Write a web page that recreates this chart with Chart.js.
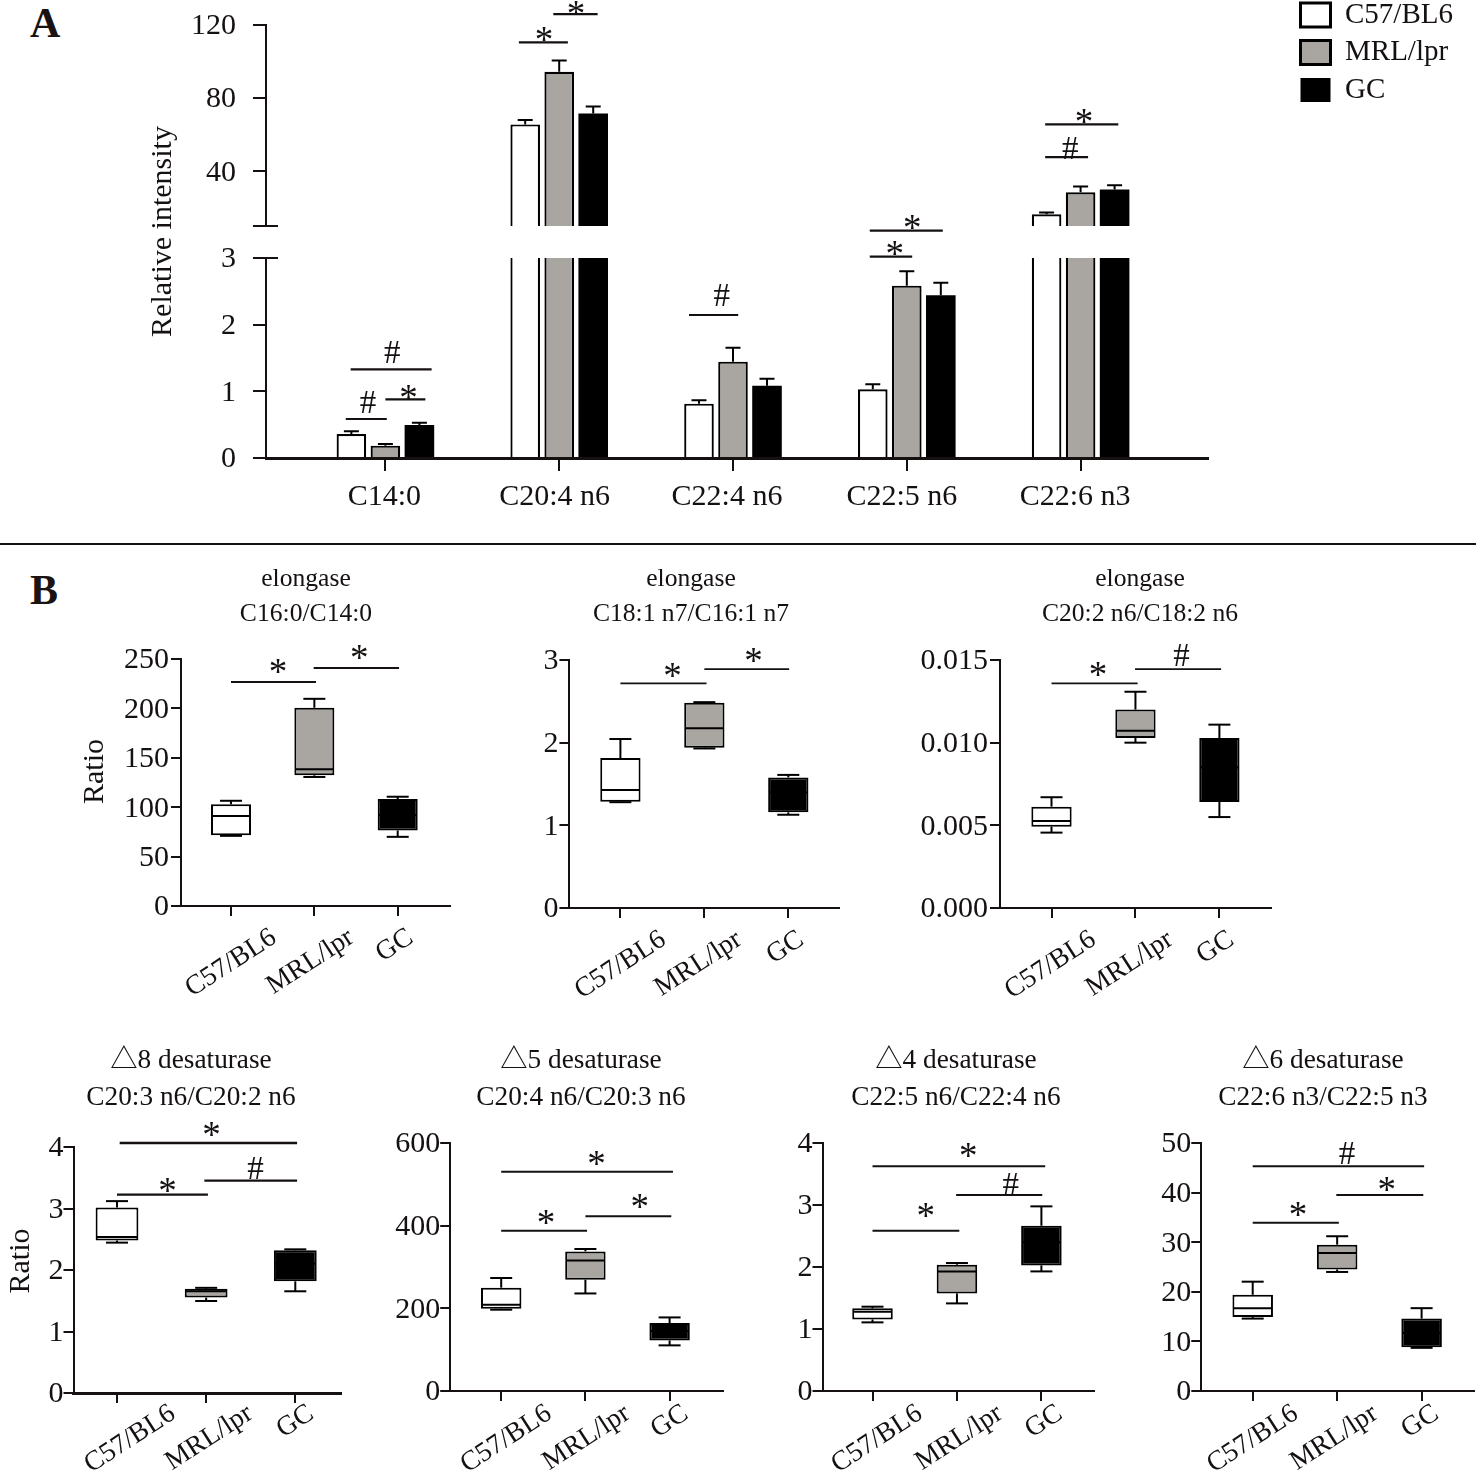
<!DOCTYPE html>
<html>
<head>
<meta charset="utf-8">
<script src="https://cdn.jsdelivr.net/npm/chart.js@4/dist/chart.umd.min.js"></script>
<style>
html,body{margin:0;padding:0;background:#fff;}
body{position:relative;width:1476px;height:1474px;overflow:hidden;font-family:'Liberation Serif',serif;color:#1a1311;}
canvas{position:absolute;display:block;}
.letter{position:absolute;font:bold 42px 'Liberation Serif',serif;line-height:42px;}
.rule{position:absolute;left:0;top:543px;width:1476px;height:2px;background:#111;}
</style>
</head>
<body>
<div class="letter" style="left:30px;top:2px">A</div>
<div class="letter" style="left:30px;top:569px">B</div>
<div class="rule"></div>
<script>
// ---------- data ----------
const groupNames = ['C57/BL6', 'MRL/lpr', 'GC'];
const fattyAcids = ['C14:0', 'C20:4 n6', 'C22:4 n6', 'C22:5 n6', 'C22:6 n3'];

const c57Mean  = [0.36, 65.6, 0.815, 1.03, 16.4];
const c57Upper = [0.40, 68.0, 0.865, 1.105, 17.4];
const mrlMean  = [0.185, 94.4, 1.445, 2.585, 28.5];
const mrlUpper = [0.21, 100.6, 1.655, 2.80, 31.6];
const gcMean   = [0.495, 71.6, 1.085, 2.44, 30.0];
const gcUpper  = [0.53, 75.4, 1.19, 2.63, 32.3];

const lowerTicks = [0, 1, 2, 3];
const upperTicks = [10, 40, 80, 120];
const lowerBrackets = [[-0.2,0.266,1.33],[-0.228,0.008,0.585],[0,0.23,0.88],[1.747,2.03,2.145],[2.787,3.207,3.41],[2.787,3.031,3.02]];
const lowerSymbols  = [['#',0.04,1.595],['#',-0.1,0.835],['*',0.133,0.98],['#',1.935,2.445],['*',3.031,3.525],['*',2.93,3.135]];
const upperBrackets = [[0.768,1.05,110.5],[0.966,1.221,125.9],[3.796,4.217,65.6],[3.796,4.043,47.7]];
const upperSymbols  = [['*',0.912,114.7],['*',1.097,129.1],['*',4.019,69.8],['#',3.94,52.8]];

// each box: [low whisker, Q1, median, Q3, high whisker]
const c16c14Box = [[71,71.7,91,102.9,106.5],[130.6,132.3,138.4,200.6,209.7],[70,76.5,92,108.2,110.6]];
const c18c16Box = [[1.28,1.286,1.427,1.814,2.044],[1.93,1.94,2.174,2.483,2.49],[1.128,1.157,1.4,1.58,1.61]];
const c20c18Box = [[0.00456,0.00492,0.00526,0.00613,0.0067],[0.0100,0.01028,0.01072,0.0120,0.01308],[0.0055,0.00641,0.0085,0.01028,0.01109]];
const d8Box = [[2.445,2.478,2.537,3.015,3.12],[1.496,1.551,1.654,1.697,1.71],[1.654,1.816,2.1,2.32,2.336]];
const d5Box = [[196.7,199,208.8,250,273.4],[236,269.3,316,337.8,343.6],[110.4,122.4,145,164.5,178]];
const d4Box = [[1.107,1.155,1.279,1.333,1.36],[1.413,1.574,1.929,2.037,2.064],[1.929,2.026,2.4,2.666,2.978]];
const d6Box = [[14.6,14.9,16.7,19.4,22.04],[24,24.5,27.8,29.5,31.2],[8.7,8.8,11.7,14.6,16.7]];

const c16c14Ticks = [0,50,100,150,200,250];
const c18c16Ticks = [0,1,2,3];
const c20c18Ticks = [0,0.005,0.010,0.015];
const d8Ticks = [0,1,2,3,4];
const d5Ticks = [0,200,400,600];
const d4Ticks = [0,1,2,3,4];
const d6Ticks = [0,10,20,30,40,50];

const c16c14Brackets = [[0,1.02,226.7],[0.992,2.016,240.9]];
const c16c14Symbols  = [['*',0.564,241.9],['*',1.54,256.7]];
const c18c16Brackets = [[0,1.026,2.718],[1.0,2.01,2.89]];
const c18c16Symbols  = [['*',0.62,2.87],['*',1.586,3.05]];
const c20c18Brackets = [[0,1.026,0.01359],[0.995,2.02,0.01445]];
const c20c18Symbols  = [['*',0.555,0.01439],['#',1.55,0.0153]];
const d8Brackets = [[0.03,2.02,4.065],[0,1.02,3.226],[0.98,2.02,3.453]];
const d8Symbols  = [['*',1.06,4.28],['*',0.566,3.377],['#',1.553,3.654]];
const d5Brackets = [[0,2.04,530.6],[0,1.02,387.8],[1,2.02,422.5]];
const d5Symbols  = [['*',1.133,561.3],['*',0.532,418.6],['*',1.645,458.7]];
const d4Brackets = [[0,2.045,3.623],[0,1.028,2.585],[0.99,2.01,3.161]];
const d4Symbols  = [['*',1.134,3.881],['*',0.631,2.908],['#',1.638,3.344]];
const d6Brackets = [[0,2.03,45.3],[0,1.02,33.9],[0.99,2.02,39.5]];
const d6Symbols  = [['#',1.116,48.1],['*',0.537,36.55],['*',1.587,41.7]];

// ---------- styling ----------
const SERIF = "'Liberation Serif','Noto Sans CJK SC',serif";
const INK = '#141110';
const GRAY = '#a9a6a1';
const fills = ['#ffffff', GRAY, '#000000'];

function makeCanvas(left, top, w, h) {
  const c = document.createElement('canvas');
  c.width = w; c.height = h;
  c.style.left = left + 'px'; c.style.top = top + 'px';
  c.style.width = w + 'px'; c.style.height = h + 'px';
  document.body.appendChild(c);
  return c;
}

function sigPlugin(brackets, symbols, lw) {
  return {
    id: 'sig',
    afterDatasetsDraw(chart) {
      const {ctx, scales: {x, y}} = chart;
      ctx.save();
      ctx.strokeStyle = INK; ctx.lineWidth = lw; ctx.fillStyle = INK;
      brackets.forEach(([a, b, v]) => {
        const py = y.getPixelForValue(v);
        ctx.beginPath(); ctx.moveTo(x.getPixelForValue(a), py); ctx.lineTo(x.getPixelForValue(b), py); ctx.stroke();
      });
      ctx.textAlign = 'center'; ctx.textBaseline = 'alphabetic';
      symbols.forEach(([t, a, v]) => {
        const star = t === '*';
        const size = star ? 37 : 33;
        ctx.font = size + "px 'Liberation Serif',serif";
        ctx.fillText(t, x.getPixelForValue(a), y.getPixelForValue(v) + size * (star ? 0.47 : 0.338));
      });
      ctx.restore();
    }
  };
}

function boxPlugin(boxes) {
  return {
    id: 'boxMarks',
    afterDatasetsDraw(chart) {
      const {ctx, scales: {y}} = chart;
      const meta = chart.getDatasetMeta(0);
      ctx.save();
      ctx.strokeStyle = '#000'; ctx.lineWidth = 2;
      boxes.forEach((b, i) => {
        const el = meta.data[i], cx = el.x, hw = el.width / 2 - 1, cap = 11;
        const seg = (x1, y1, x2, y2) => { ctx.beginPath(); ctx.moveTo(x1, y1); ctx.lineTo(x2, y2); ctx.stroke(); };
        const [lo, q1, med, q3, hi] = b.map(v => y.getPixelForValue(v));
        seg(cx, q3, cx, hi); seg(cx - cap, hi, cx + cap, hi);
        seg(cx, q1, cx, lo); seg(cx - cap, lo, cx + cap, lo);
        seg(cx - hw, med, cx + hw, med);
      });
      ctx.restore();
    }
  };
}

// Tick-label fine placement: the labels stay the scale's own text items.
function labelPlacement(dx, drop) {
  return {
    id: 'labelPlacement',
    beforeDraw(chart) {
      const s = chart.scales.x, ctx = chart.ctx;
      if (chart.titleBlock) { chart.titleBlock.left = 0; chart.titleBlock.right = chart.width; }
      chart.scales.y.getLabelItems().forEach(it => {
        if (!it._placed) { it._placed = true; it.options.translation[1] += 1.5; }
      });
      if (!s.options.display) return;
      const rot = s.labelRotation * Math.PI / 180;
      ctx.save();
      s.getLabelItems().forEach((it, i) => {
        if (it._placed) return;
        it._placed = true;
        if (!rot) {
          it.options.translation[0] += dx[i];
          it.options.translation[1] += drop;
          return;
        }
        ctx.font = it.font.string;
        const w = ctx.measureText(it.label).width;
        it.textOffset = 0;
        it.options.textAlign = 'center';
        it.options.textBaseline = 'middle';
        it.options.translation = [s.getPixelForValue(i) + dx[i], s.top + drop + Math.sin(rot) * w / 2 + Math.cos(rot) * 11];
      });
      ctx.restore();
    }
  };
}

function linearX(plotL, plotR, t0, tLast, n, labels, opt) {
  const band = (tLast - t0) / (n - 1);
  return Object.assign({
    type: 'linear', position: 'bottom', offset: false,
    min: -(t0 - plotL) / band, max: (n - 1) + (plotR - tLast) / band,
    afterBuildTicks(s) { s.ticks = labels.map((_, i) => ({value: i})); },
    grid: {display: true, offset: false, drawOnChartArea: false, drawTicks: true, tickLength: opt.tick, lineWidth: 2, color: INK},
    border: {display: true, color: INK, width: opt.axisW},
    ticks: Object.assign({autoSkip: false, color: INK, font: {family: SERIF, size: opt.font},
      callback: v => labels[v]}, opt.ticks || {})
  }, opt.extra || {});
}

function linearY(min, max, ticks, fmt, width, opt) {
  return {
    type: 'linear', position: 'left', min, max,
    afterBuildTicks(s) { s.ticks = ticks.map(v => ({value: v})); },
    afterFit(s) {
      s.width = width; s.paddingTop = 0; s.paddingBottom = 0;
      if (opt.titleShift && !s._shifted) {
        s._shifted = true;
        const orig = s.drawTitle;
        s.drawTitle = function () {
          const c = this.ctx; c.save(); c.translate(0, opt.titleShift); orig.call(this); c.restore();
        };
      }
    },
    grid: {display: true, drawOnChartArea: false, drawTicks: true, tickLength: opt.tick, lineWidth: 2, color: INK},
    border: {display: true, color: INK, width: 2},
    ticks: {color: INK, padding: opt.pad, font: {family: SERIF, size: 30}, callback: fmt},
    title: opt.title ? {display: true, text: opt.title, color: INK, padding: 0, font: {family: SERIF, size: 30}} : {display: false}
  };
}

const common = () => ({
  responsive: false, animation: false, events: [], maintainAspectRatio: false,
  plugins: {legend: {display: false}, tooltip: {enabled: false}, title: {display: false}}
});

// ---------- panel A (broken axis: two charts sharing the same arrays) ----------
const meansA = [c57Mean, mrlMean, gcMean];
const uppersA = [c57Upper, mrlUpper, gcUpper];
const A_L = 266, A_R = 1208, A_T0 = 385.4, A_T4 = 1080.6;

function barDatasets() {
  return groupNames.map((name, g) => ({
    label: name,
    data: meansA[g].map((v, i) => ({x: i, y: v})),
    backgroundColor: fills[g], borderColor: '#000', borderWidth: g === 2 ? 0 : 2.2,
    categoryPercentage: 0.587, barPercentage: 0.87, clip: 0
  }));
}

function errPlugin() {
  return {
    id: 'errBars',
    afterDatasetsDraw(chart) {
      const {ctx, scales: {y}} = chart;
      ctx.save(); ctx.strokeStyle = '#000'; ctx.lineWidth = 2;
      uppersA.forEach((arr, g) => {
        const meta = chart.getDatasetMeta(g);
        arr.forEach((u, i) => {
          if (u > y.max || meansA[g][i] < y.min) return;
          const cx = meta.data[i].x, top = y.getPixelForValue(u), base = y.getPixelForValue(meansA[g][i]);
          ctx.beginPath(); ctx.moveTo(cx, base); ctx.lineTo(cx, top);
          ctx.moveTo(cx - 7.5, top); ctx.lineTo(cx + 7.5, top); ctx.stroke();
        });
      });
      ctx.restore();
    }
  };
}

function breakStub(value) {
  return {
    id: 'breakStub',
    afterDraw(chart) {
      const {ctx, scales: {y}} = chart, py = y.getPixelForValue(value);
      ctx.save(); ctx.strokeStyle = INK; ctx.lineWidth = 2;
      ctx.beginPath(); ctx.moveTo(y.right, py); ctx.lineTo(y.right + 12, py); ctx.stroke();
      ctx.restore();
    }
  };
}

// upper segment
(function () {
  const o = common();
  o.layout = {padding: {left: 0, right: 1476 - A_R, top: 25, bottom: 4}};
  o.scales = {
    x: linearX(A_L, A_R, A_T0, A_T4, 5, fattyAcids, {tick: 13, font: 30, axisW: 3, extra: {display: false}}),
    y: linearY(10, 120, upperTicks, v => v === 10 ? '' : String(v), A_L, {tick: 13, pad: 17})
  };
  new Chart(makeCanvas(0, 0, 1476, 230), {
    type: 'bar', data: {datasets: barDatasets()}, options: o,
    plugins: [errPlugin(), sigPlugin(upperBrackets, upperSymbols, 2.2), breakStub(10), labelPlacement([0,0,0,0,0], 0)]
  });
})();
// lower segment (carries the shared axis title, moved up to the centre of the broken axis)
(function () {
  const o = common();
  o.layout = {padding: {left: 145, right: 1476 - A_R, top: 258, bottom: 0}};
  o.scales = {
    x: linearX(A_L, A_R, A_T0, A_T4, 5, fattyAcids, {tick: 13, font: 30, axisW: 3,
      ticks: {padding: 6, maxRotation: 0, minRotation: 0},
      extra: {afterFit(s) { s.height = 72; s.paddingLeft = 0; s.paddingRight = 0; }}}),
    y: linearY(0, 3, lowerTicks, v => String(v), A_L - 145, {tick: 13, pad: 17, title: 'Relative intensity', titleShift: -126.5})
  };
  new Chart(makeCanvas(0, 0, 1476, 530), {
    type: 'bar', data: {datasets: barDatasets()}, options: o,
    plugins: [errPlugin(), sigPlugin(lowerBrackets, lowerSymbols, 2.2), breakStub(3), labelPlacement([-1,-4.5,-6,-5,-5.5], 2)]
  });
})();

// legend
new Chart(makeCanvas(1292, -8, 184, 140), {
  type: 'bar',
  data: {labels: [], datasets: groupNames.map((name, g) => ({
    label: name, data: [], backgroundColor: fills[g], borderColor: '#000', borderWidth: g === 2 ? 0 : 3
  }))},
  options: Object.assign(common(), {
    scales: {x: {display: false}, y: {display: false}},
    plugins: {tooltip: {enabled: false}, legend: {display: true, position: 'left', align: 'start', maxWidth: 184,
      labels: {boxWidth: 30, boxHeight: 24, padding: 8.5, color: INK, font: {family: SERIF, size: 29}}}}
  })
});

// ---------- panel B box charts ----------
function boxPanel(p) {
  const lh = p.lh * p.titleSize;
  const half = Math.ceil(Math.max(p.cx - p.scaleLeft, p.plotR + 30 - p.cx));
  const cLeft = Math.round(p.cx - half), cW = half * 2, xH = 110;
  const cTop = Math.round(p.titleTop);
  const h = Math.round(p.plotB) - cTop + xH;
  const o = common();
  o.layout = {padding: {left: p.scaleLeft - cLeft, right: cLeft + cW - p.plotR, top: 0, bottom: 0}};
  o.plugins.title = {display: true, text: p.title, color: INK, align: 'center',
    padding: {top: 0, bottom: Math.round(p.plotT) - cTop - 2 * lh},
    font: {family: SERIF, size: p.titleSize, weight: 'normal', lineHeight: p.lh}};
  o.scales = {
    x: linearX(p.plotL, p.plotR, p.t0, p.t2, 3, groupNames, {tick: 10, font: 27.5, axisW: p.xW,
      ticks: {maxRotation: 33, minRotation: 33, padding: 4},
      extra: {afterFit(s) { s.height = xH; s.paddingLeft = 0; s.paddingRight = 0; }}}),
    y: linearY(0, p.max, p.ticks, p.fmt, p.plotL - p.scaleLeft, {tick: 10, pad: p.pad, title: p.yTitle, titleShift: p.yShift})
  };
  new Chart(makeCanvas(cLeft, cTop, cW, h), {
    type: 'bar',
    data: {datasets: [{
      label: p.title[1],
      data: p.box.map((b, i) => ({x: i, y: [b[1], b[3]]})),
      backgroundColor: fills, borderColor: '#000', borderWidth: 2, borderSkipped: false,
      categoryPercentage: 1, barPercentage: 0.48
    }]},
    options: o,
    plugins: [boxPlugin(p.box), sigPlugin(p.brackets, p.symbols, p.sigW), labelPlacement(p.dx, p.drop)]
  });
}

const int = v => String(v);
boxPanel({title: ['elongase', 'C16:0/C14:0'], cx: 305.5, titleTop: 562, titleSize: 25.6, lh: 1.37, pad: 2, dx: [0,-4,-3], drop: 20,
  scaleLeft: 77, plotL: 181, plotR: 450, plotT: 659.3, plotB: 906, t0: 231, t2: 397.7, xW: 2,
  max: 250, ticks: c16c14Ticks, fmt: int, yTitle: 'Ratio', yShift: -11, box: c16c14Box, brackets: c16c14Brackets, symbols: c16c14Symbols, sigW: 1.8});
boxPanel({title: ['elongase', 'C18:1 n7/C16:1 n7'], cx: 691, titleTop: 562, titleSize: 25.6, lh: 1.37, pad: 1, dx: [0,-6,-3], drop: 20,
  scaleLeft: 500, plotL: 569.4, plotR: 839, plotT: 660, plotB: 908, t0: 620.4, t2: 788.3, xW: 2,
  max: 3, ticks: c18c16Ticks, fmt: int, box: c18c16Box, brackets: c18c16Brackets, symbols: c18c16Symbols, sigW: 1.8});
boxPanel({title: ['elongase', 'C20:2 n6/C18:2 n6'], cx: 1139.5, titleTop: 562, titleSize: 25.6, lh: 1.37, pad: 2, dx: [-1,-6,-4], drop: 20,
  scaleLeft: 905, plotL: 1000, plotR: 1271.4, plotT: 660, plotB: 908, t0: 1051.5, t2: 1219.4, xW: 2,
  max: 0.015, ticks: c20c18Ticks, fmt: v => v.toFixed(3), box: c20c18Box, brackets: c20c18Brackets, symbols: c20c18Symbols, sigW: 1.8});
boxPanel({title: ['△8 desaturase', 'C20:3 n6/C20:2 n6'], cx: 190.5, titleTop: 1042, titleSize: 27.3, lh: 1.36, pad: 0, dx: [13,3,0], drop: 9,
  scaleLeft: 3, plotL: 73.5, plotR: 340.7, plotT: 1146.7, plotB: 1393, t0: 117, t2: 295.3, xW: 3,
  max: 4, ticks: d8Ticks, fmt: int, yTitle: 'Ratio', yShift: -9, box: d8Box, brackets: d8Brackets, symbols: d8Symbols, sigW: 2.4});
boxPanel({title: ['△5 desaturase', 'C20:4 n6/C20:3 n6'], cx: 581, titleTop: 1042, titleSize: 27.3, lh: 1.36, pad: 0, dx: [5,1,0], drop: 11,
  scaleLeft: 380, plotL: 450.2, plotR: 723, plotT: 1143.3, plotB: 1391.3, t0: 501.2, t2: 669.6, xW: 2,
  max: 600, ticks: d5Ticks, fmt: int, box: d5Box, brackets: d5Brackets, symbols: d5Symbols, sigW: 2});
boxPanel({title: ['△4 desaturase', 'C22:5 n6/C22:4 n6'], cx: 955.5, titleTop: 1042, titleSize: 27.3, lh: 1.36, pad: 0, dx: [4.5,2,2.5], drop: 11,
  scaleLeft: 760, plotL: 822.5, plotR: 1093.8, plotT: 1143.3, plotB: 1391.3, t0: 872.5, t2: 1041.4, xW: 2,
  max: 4, ticks: d4Ticks, fmt: int, box: d4Box, brackets: d4Brackets, symbols: d4Symbols, sigW: 2});
boxPanel({title: ['△6 desaturase', 'C22:6 n3/C22:5 n3'], cx: 1322.5, titleTop: 1042, titleSize: 27.3, lh: 1.36, pad: 0, dx: [0,-3,-1.5], drop: 11,
  scaleLeft: 1130, plotL: 1201.3, plotR: 1473.5, plotT: 1143.3, plotB: 1391.3, t0: 1252.7, t2: 1421.6, xW: 2,
  max: 50, ticks: d6Ticks, fmt: int, box: d6Box, brackets: d6Brackets, symbols: d6Symbols, sigW: 2});
</script>
</body>
</html>
